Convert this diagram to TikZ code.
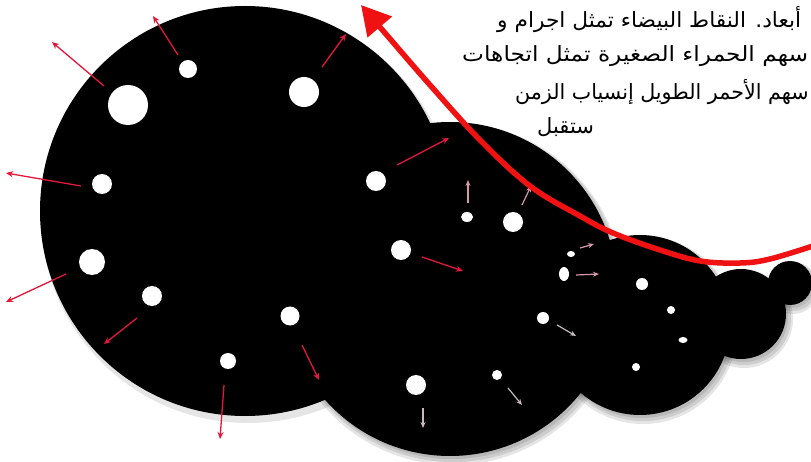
\documentclass[tikz,border=0pt]{standalone}
\usepackage{fontspec}
\newfontfamily\arabicfont[Script=Arabic]{DejaVu Sans}
\TeXXeTstate=1
\usetikzlibrary{arrows.meta,shapes.geometric}
\definecolor{bigred}{RGB}{240,18,18}
\definecolor{smallred}{RGB}{228,22,58}
\definecolor{pinkarr}{RGB}{214,150,172}
\definecolor{grayarr}{RGB}{200,186,192}
\tikzset{
  blob/.style={fill=black},
  shade1/.style={fill=black, opacity=0.10},
  dot/.style={circle, fill=white, inner sep=0pt, minimum size=#1},
  edot/.style n args={2}{ellipse, fill=white, inner sep=0pt, minimum width=#1, minimum height=#2},
  redarr/.style={draw=smallred, line width=1.3pt, -{Stealth[length=7pt,width=6pt]}},
  pinkarrow/.style={draw=pinkarr, line width=1.2pt, -{Stealth[length=6pt,width=5pt]}},
  grayarrow/.style={draw=grayarr, line width=1.2pt, -{Stealth[length=6pt,width=5pt]}},
  txt/.style={font=\arabicfont\fontsize{21}{24}\selectfont, inner sep=0pt, anchor=west}
}
\begin{document}
\begin{tikzpicture}[x=1pt,y=-1pt]
\useasboundingbox (0,0) rectangle (811,462);
\fill[white] (0,0) rectangle (811,462);
% text
\node[txt, xscale=1.034] (l1) at (497,20) {\beginR أبعاد. النقاط البيضاء تمثل اجرام و\endR};
\node[txt, xscale=1.109] (l2) at (462,56) {\beginR سهم الحمراء الصغيرة تمثل اتجاهات\endR};
\node[txt, xscale=0.983] (l3) at (515,92) {\beginR سهم الأحمر الطويل إنسياب الزمن\endR};
\node[txt] (l4) at (537,127) {\beginR ستقبل\endR};
% shadows
\foreach \cx/\cy/\r in {450/289/167, 640/325/90, 741/314/45, 790/283/22}{
  \fill[shade1] (\cx+3,\cy+5) circle (\r+4);
  \fill[shade1] (\cx+3,\cy+4) circle (\r+2);
  \fill[shade1] (\cx+2,\cy+3) circle (\r);
}
\fill[shade1] (248,216) circle (207);
% blobs
\fill[blob] (245,211) circle (205);
\fill[blob] (450,289) circle (167);
\fill[blob] (640,325) circle (90);
\fill[blob] (741,314) circle (45);
\fill[blob] (790,283) circle (22);
% dots big circle
\node[dot=18pt] (d1) at (188,69) {};
\node[dot=40pt] (d2) at (128,105) {};
\node[dot=30pt] (d3) at (304,92) {};
\node[dot=20pt] (d4) at (102,184) {};
\node[dot=20pt] (d5) at (376,181) {};
\node[dot=26pt] (d6) at (92,262) {};
\node[dot=20pt] (d7) at (152,296) {};
\node[dot=20pt] (d8) at (401,250) {};
\node[dot=19pt] (d9) at (290,316) {};
\node[dot=16pt] (d10) at (228,361) {};
% dots circle 2
\node[dot=20pt] (e1) at (416,385) {};
\node[edot={12pt}{10pt}] (e2) at (467,217) {};
\node[dot=20pt] (e3) at (513,222) {};
\node[edot={8pt}{6pt}] (e4) at (571,254) {};
\node[edot={10pt}{14pt}] (e5) at (564,274) {};
\node[dot=12pt] (e6) at (543,318) {};
\node[dot=10pt] (e7) at (497,375) {};
% dots circle 3
\node[dot=12pt] (f1) at (642,284) {};
\node[dot=8pt] (f2) at (671,310) {};
\node[edot={9pt}{6pt}] (f3) at (683,340) {};
\node[dot=8pt] (f4) at (636,367) {};
% red arrows
\draw[redarr] (178,55) -- (153,16);
\draw[redarr] (104,86) -- (52,42);
\draw[redarr] (81,186) -- (6,173);
\draw[redarr] (66,274) -- (6,302);
\draw[redarr] (137,318) -- (104,344);
\draw[redarr] (224,385) -- (220,439);
\draw[redarr] (302,345) -- (319,380);
\draw[redarr] (322,67) -- (346,34);
\draw[redarr] (397,165) -- (449,138);
\draw[redarr] (422,257) -- (463,271);
% pink arrows
\draw[pinkarrow] (468,203) -- (468,180);
\draw[pinkarrow] (522,205) -- (531,186);
\draw[pinkarrow] (580,248) -- (594,244);
\draw[pinkarrow] (576,275) -- (599,274);
% gray arrows
\draw[grayarrow] (557,325) -- (576,336);
\draw[grayarrow] (423,408) -- (423,428);
\draw[grayarrow] (508,388) -- (522,405);
% big red arrow
\draw[bigred, line width=5.5pt, line cap=round, -{Triangle[length=29pt,width=31pt]}]
  plot[smooth, tension=0.6] coordinates {(816,245) (770,259) (740,263) (700,261) (660,250) (613,233) (580,216) (530,186) (480,140) (430,85) (385,33) (361,5)};
\end{tikzpicture}
\end{document}
